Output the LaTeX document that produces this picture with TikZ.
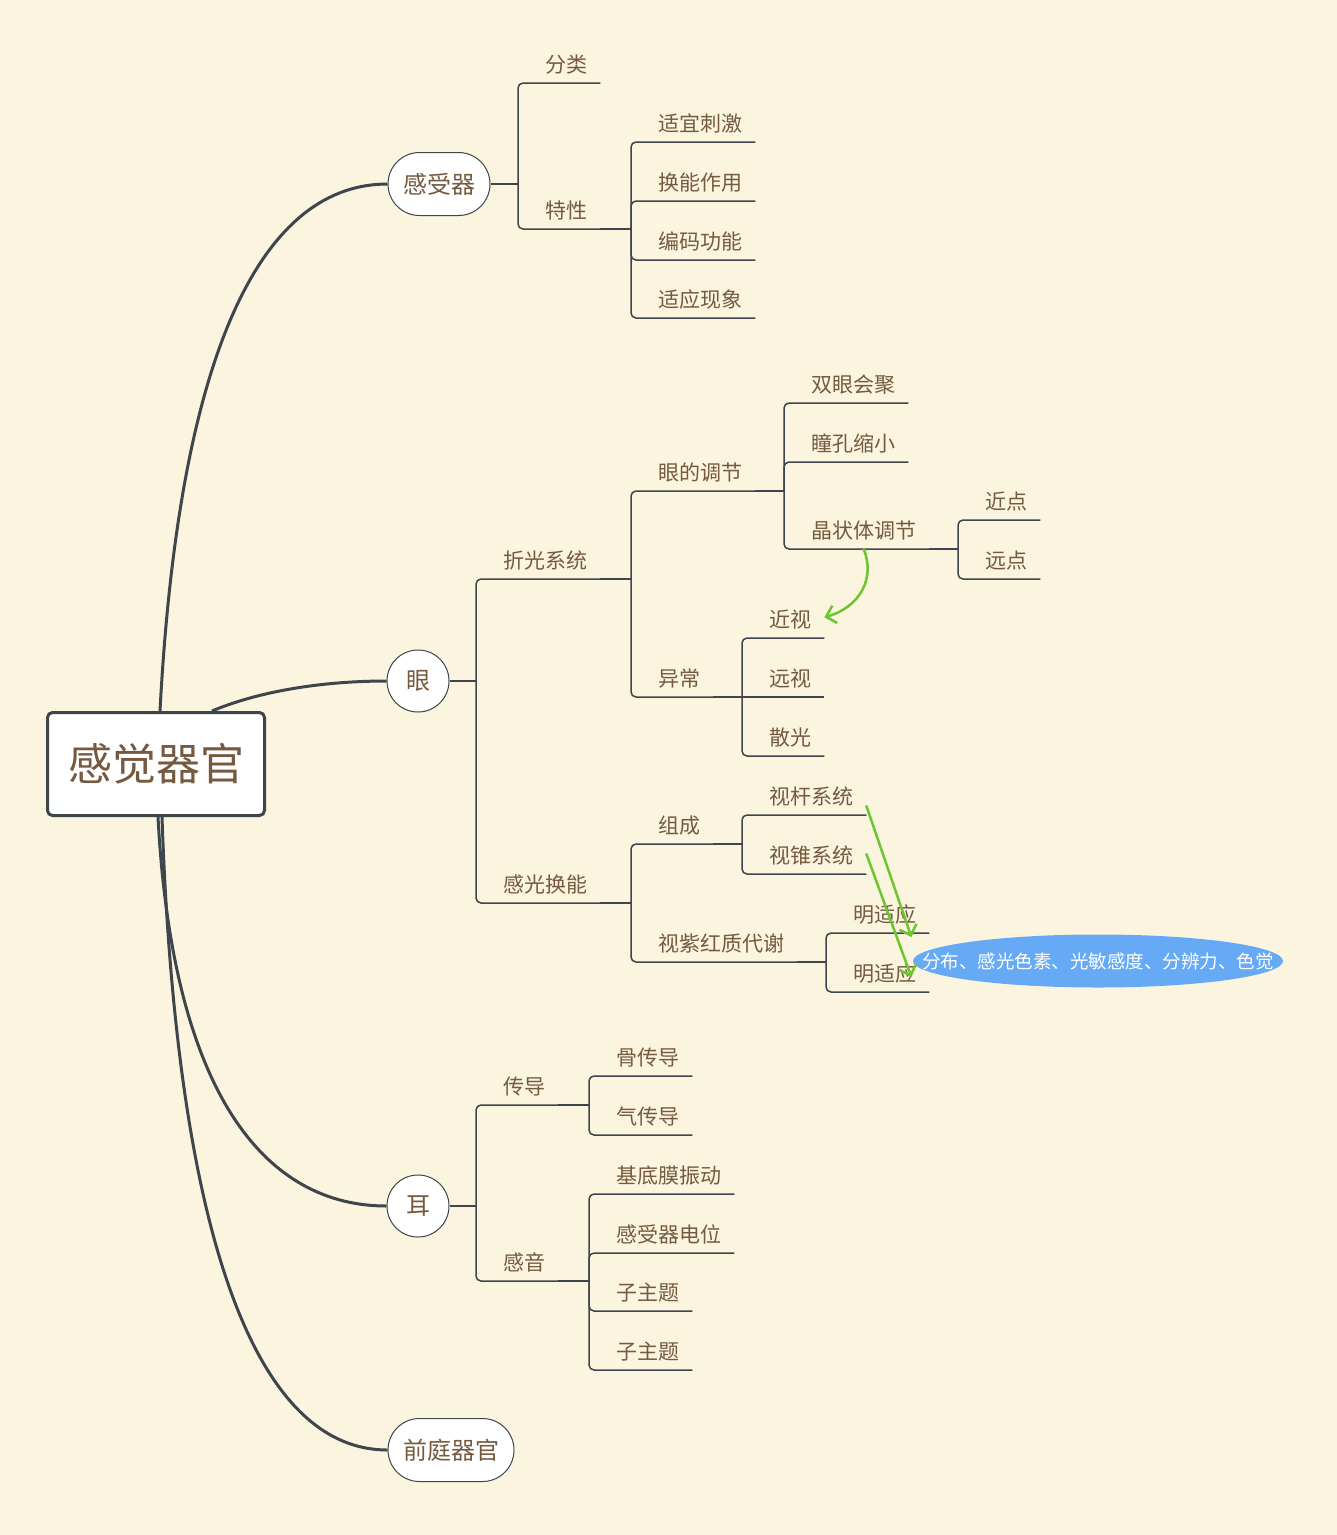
\documentclass[tikz,border=0pt]{standalone}
\usepackage{fontspec}
\setmainfont{Noto Sans CJK SC}
\usetikzlibrary{arrows.meta, shapes.geometric}
\definecolor{paper}{RGB}{251,245,223}
\definecolor{edge}{RGB}{62,69,76}
\definecolor{ink}{RGB}{117,90,64}
\definecolor{rel}{RGB}{109,198,47}
\definecolor{callout}{RGB}{102,170,246}
\tikzset{
  topic/.style={anchor=south west, inner xsep=13pt, inner ysep=6pt,
    text height=17pt, text depth=4pt, text=ink, font=\fontsize{21}{25}\selectfont},
  main/.style={draw=edge, line width=1pt, fill=white, text=ink,
    font=\fontsize{24}{28}\selectfont},
  pill/.style={main, rectangle, rounded corners=31.5pt, minimum height=63pt},
  ball/.style={main, circle, inner sep=0pt, minimum size=62pt},
  branch/.style={draw=edge, line width=1.5pt},
  fork/.style={branch, rounded corners=5pt},
  trunk/.style={draw=edge, line width=3pt},
  relation/.style={draw=rel, line width=2.5pt, line cap=round,
    -{Straight Barb[length=9pt,width=18pt]}}
}
\begin{document}
\begin{tikzpicture}[x=1pt, y=-1pt]
      \fill[paper] (0,0) rectangle (1337,1535);
      \useasboundingbox (0,0) rectangle (1337,1535);

      % central topic and main topics
      \node[draw=edge, line width=3pt, fill=white, rounded corners=5pt,
        minimum width=217pt, minimum height=103pt, text=ink,
        font=\fontsize{44}{50}\selectfont]
        (organ) at (156,764) {感觉器官};
      \node[pill, minimum width=102pt] (receptor) at (439,184) {感受器};
      \node[ball] (eye) at (418,681) {眼};
      \node[ball] (ear) at (418,1206) {耳};
      \node[pill, minimum width=126pt] (vestibule) at (451,1450) {前庭器官};

      \draw[trunk] ([xshift=4pt]organ.north) .. controls +(20,-380) and +(-118,0) .. (receptor.west);
      \draw[trunk] ([xshift=56pt]organ.north) .. controls +(50,-21) and +(-60,0) .. (eye.west);
      \draw[trunk] ([xshift=2pt]organ.south) .. controls +(15,283) and +(-118,0) .. (ear.west);
      \draw[trunk] ([xshift=6pt]organ.south) .. controls +(15,433) and +(-128,0) .. (vestibule.west);

      % 感受器
      \node[topic] (classify) at (532,83) {分类};
      \node[topic] (feature) at (532,229) {特性};
      \node[topic] (adequate) at (645,142) {适宜刺激};
      \node[topic] (transduce) at (645,201) {换能作用};
      \node[topic] (encode) at (645,260) {编码功能};
      \node[topic] (adapt) at (645,318) {适应现象};
      \coordinate (receptor-j) at (518,184);
      \coordinate (feature-j) at (631,229);
      \draw[branch] (receptor.east) -- (receptor-j);
      \foreach \c in {classify,feature}
        \draw[fork] (receptor-j) |- (\c.south east);
      \draw[branch] (feature.south east) -- (feature-j);
      \foreach \c in {adequate,transduce,encode,adapt}
        \draw[fork] (feature-j) |- (\c.south east);

      % 眼
      \node[topic] (refract) at (490,579) {折光系统};
      \node[topic] (photo) at (490,903) {感光换能};
      \node[topic] (accommodate) at (645,491) {眼的调节};
      \node[topic] (anomaly) at (645,697) {异常};
      \node[topic] (converge) at (798,403) {双眼会聚};
      \node[topic] (pupil) at (798,462) {瞳孔缩小};
      \node[topic] (lens) at (798,549) {晶状体调节};
      \node[topic] (near) at (972,520) {近点};
      \node[topic] (far) at (972,579) {远点};
      \node[topic] (myopia) at (756,638) {近视};
      \node[topic] (hyperopia) at (756,697) {远视};
      \node[topic] (astig) at (756,756) {散光};
      \node[topic] (compose) at (645,844) {组成};
      \node[topic] (rhodopsin) at (645,962) {视紫红质代谢};
      \node[topic] (rod) at (756,815) {视杆系统};
      \node[topic] (cone) at (756,874) {视锥系统};
      \node[topic] (light1) at (840,933) {明适应};
      \node[topic] (light2) at (840,992) {明适应};
      \coordinate (eye-j) at (476,681);
      \coordinate (refract-j) at (631,579);
      \coordinate (accommodate-j) at (784,491);
      \coordinate (lens-j) at (958,549);
      \coordinate (anomaly-j) at (742,697);
      \coordinate (photo-j) at (631,903);
      \coordinate (compose-j) at (742,844);
      \coordinate (rhodopsin-j) at (826,962);
      \draw[branch] (eye.east) -- (eye-j);
      \foreach \c in {refract,photo}
        \draw[fork] (eye-j) |- (\c.south east);
      \draw[branch] (refract.south east) -- (refract-j);
      \foreach \c in {accommodate,anomaly}
        \draw[fork] (refract-j) |- (\c.south east);
      \draw[branch] (accommodate.south east) -- (accommodate-j);
      \foreach \c in {converge,pupil,lens}
        \draw[fork] (accommodate-j) |- (\c.south east);
      \draw[branch] (lens.south east) -- (lens-j);
      \foreach \c in {near,far}
        \draw[fork] (lens-j) |- (\c.south east);
      \draw[branch] (anomaly.south east) -- (anomaly-j) -- (hyperopia.south east);
      \foreach \c in {myopia,astig}
        \draw[fork] (anomaly-j) |- (\c.south east);
      \draw[branch] (photo.south east) -- (photo-j);
      \foreach \c in {compose,rhodopsin}
        \draw[fork] (photo-j) |- (\c.south east);
      \draw[branch] (compose.south east) -- (compose-j);
      \foreach \c in {rod,cone}
        \draw[fork] (compose-j) |- (\c.south east);
      \draw[branch] (rhodopsin.south east) -- (rhodopsin-j);
      \foreach \c in {light1,light2}
        \draw[fork] (rhodopsin-j) |- (\c.south east);

      % 耳
      \node[topic] (conduct) at (490,1105) {传导};
      \node[topic] (sense) at (490,1281) {感音};
      \node[topic] (bone) at (603,1076) {骨传导};
      \node[topic] (air) at (603,1135) {气传导};
      \node[topic] (membrane) at (603,1194) {基底膜振动};
      \node[topic] (potential) at (603,1253) {感受器电位};
      \node[topic] (sub1) at (603,1311) {子主题};
      \node[topic] (sub2) at (603,1370) {子主题};
      \coordinate (ear-j) at (476,1206);
      \coordinate (conduct-j) at (589,1105);
      \coordinate (sense-j) at (589,1281);
      \draw[branch] (ear.east) -- (ear-j);
      \foreach \c in {conduct,sense}
        \draw[fork] (ear-j) |- (\c.south east);
      \draw[branch] (conduct.south east) -- (conduct-j);
      \foreach \c in {bone,air}
        \draw[fork] (conduct-j) |- (\c.south east);
      \draw[branch] (sense.south east) -- (sense-j);
      \foreach \c in {membrane,potential,sub1,sub2}
        \draw[fork] (sense-j) |- (\c.south east);

      % callout and relations
      \node[ellipse, fill=callout, minimum width=370pt, minimum height=53pt]
        (note) at (1098,961) {};
      \node[text=white, font=\fontsize{18.5}{22}\selectfont] at (note) {分布、感光色素、光敏感度、分辨力、色觉};
      \draw[relation] (lens.south) .. controls +(12,30) and +(35,-10) .. ([yshift=4pt]myopia.east);
      \draw[relation] ([yshift=9pt]rod.south east) -- ([xshift=-18pt,yshift=-4pt]light1.south east);
      \draw[relation] ([yshift=20pt]cone.south east) -- ([xshift=-18pt,yshift=15pt]light2.south east);
    \end{tikzpicture}
\end{document}
